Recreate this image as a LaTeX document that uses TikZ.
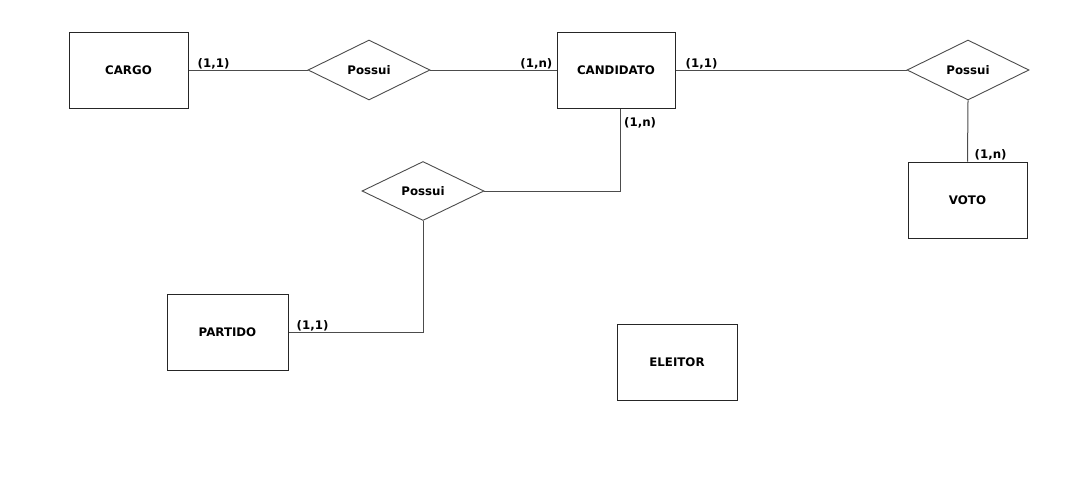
\documentclass[tikz,border=0pt]{standalone}
\usepackage{fontspec}
\setmainfont{DejaVu Sans}
\usetikzlibrary{shapes.geometric,shadows}
\tikzset{
  entity/.style={draw=black!85,line width=1pt,fill=white,rectangle,minimum width=119pt,minimum height=76pt,
    drop shadow={shadow xshift=1.3pt,shadow yshift=-1.3pt,fill=black!45,opacity=1},font=\bfseries\fontsize{11.8}{13}\selectfont},
  relation/.style={draw=black!70,line width=0.9pt,fill=white,diamond,inner sep=0pt,minimum width=122pt,minimum height=60pt,
    font=\bfseries\fontsize{11.8}{13}\selectfont},
  link/.style={draw=black!70,line width=1pt},
  card/.style={inner sep=1pt,font=\bfseries\fontsize{11.8}{13}\selectfont}
}
\begin{document}
\begin{tikzpicture}[x=1pt,y=-1pt]
    \useasboundingbox (0,0) rectangle (1078,491);
    %% entities
    \node[entity] (cargo) at (128.5,70) {CARGO};
    \node[entity,minimum width=118pt] (candidato) at (616,70) {CANDIDATO};
    \node[entity] (voto) at (967.5,200) {VOTO};
    \node[entity,minimum width=121pt] (partido) at (227.5,332) {PARTIDO};
    \node[entity,minimum width=120pt] (eleitor) at (677,362) {ELEITOR};
    %% relations
    \node[relation] (possuicargo) at (369,70) {Possui};
    \node[relation] (possuivoto) at (968,70) {Possui};
    \node[relation,minimum height=59pt] (possuipartido) at (423,191) {Possui};
    %% connectors
    \draw[link] (cargo.east) -- (possuicargo.west);
    \draw[link] (possuicargo.east) -- (candidato.west);
    \draw[link] (candidato.east) -- (possuivoto.west);
    \draw[link] (possuivoto.south) -- (voto.north);
    \draw[link] ([xshift=4pt]candidato.south) |- (possuipartido.east);
    \draw[link] (possuipartido.south) |- (partido.east);
    %% cardinalities
    \node[card,anchor=south west] (cardcargo) at ([xshift=8pt]cargo.east) {(1,1)};
    \node[card,anchor=south east] (cardcandA) at ([xshift=-3pt]candidato.west) {(1,n)};
    \node[card,anchor=south west] (cardcandB) at ([xshift=9pt]candidato.east) {(1,1)};
    \node[card,anchor=north west] (cardcandC) at ([xshift=7pt,yshift=-8pt]candidato.south) {(1,n)};
    \node[card,anchor=south west] (cardvoto) at ([xshift=6pt]voto.north) {(1,n)};
    \node[card,anchor=south west] (cardpartido) at ([xshift=7pt]partido.east) {(1,1)};
\end{tikzpicture}
\end{document}
